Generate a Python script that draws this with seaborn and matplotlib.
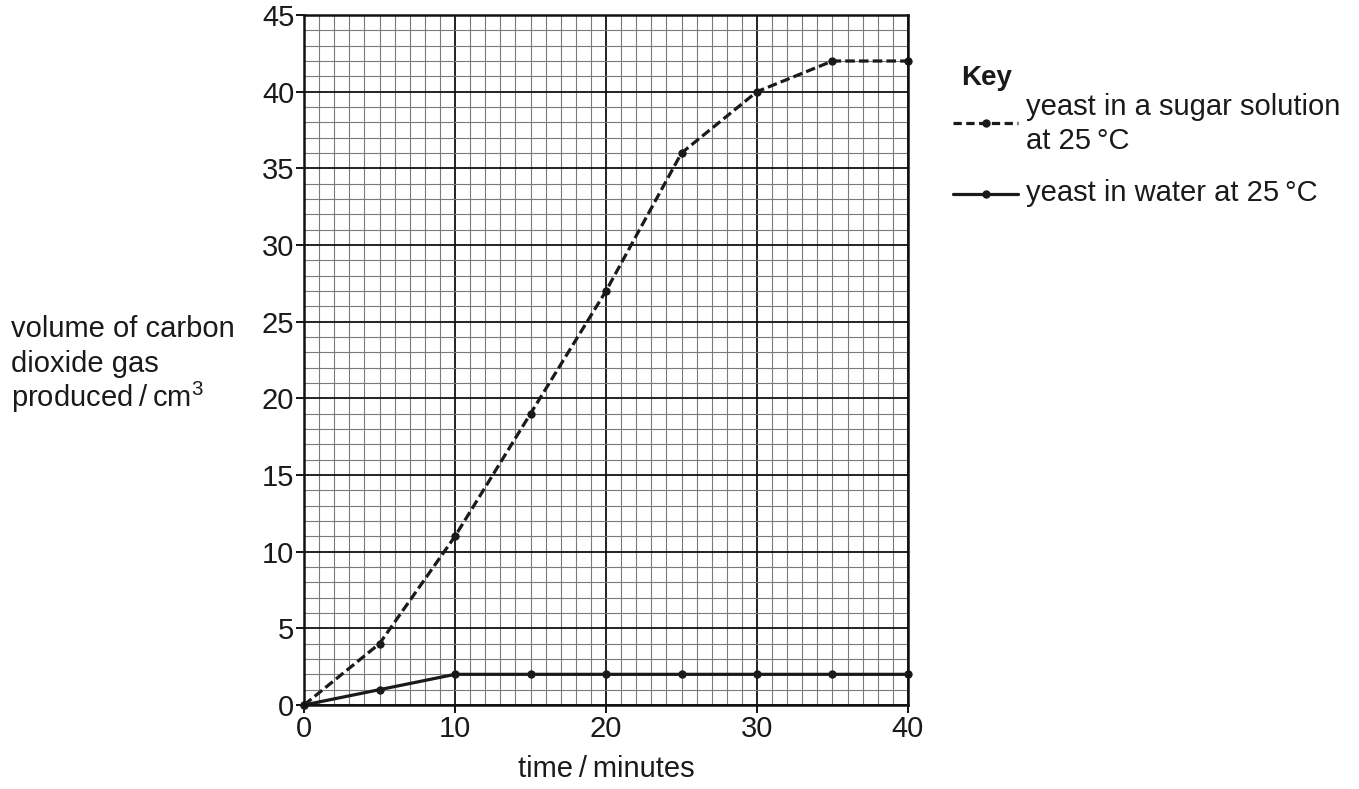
import matplotlib
matplotlib.use('Agg')
import matplotlib.pyplot as plt
import seaborn as sns
import pandas as pd
from matplotlib.lines import Line2D
from matplotlib.ticker import MultipleLocator

# readings taken every 5 minutes
time_min = [0, 5, 10, 15, 20, 25, 30, 35, 40]
sugar_vol = [0, 4, 11, 19, 27, 36, 40, 42, 42]
water_vol = [0, 1, 2, 2, 2, 2, 2, 2, 2]

sugar_label = ['yeast in a sugar solution', 'at 25\u2009°C']
water_label = 'yeast in water at 25\u2009°C'
y_label = ['volume of carbon', 'dioxide gas', 'produced\u2009/\u2009cm$^{3}$']

sns.set_style('white')
plt.rcParams['font.family'] = ['Liberation Sans', 'DejaVu Sans']
plt.rcParams['mathtext.fontset'] = 'custom'
plt.rcParams['mathtext.rm'] = 'Liberation Sans'
plt.rcParams['mathtext.it'] = 'Liberation Sans:italic'

W, H = 1359, 789
INK = '#1a1a1a'
LW = 2.3
DASH = (0, (3.0, 1.3))
FS = 21

fig = plt.figure(figsize=(W / 100, H / 100), dpi=100)
ax = fig.add_axes([304 / W, 84 / H, 604 / W, 690 / H])

# graph paper grid
ax.set_xlim(0, 40)
ax.set_ylim(0, 45)
ax.xaxis.set_major_locator(MultipleLocator(10))
ax.yaxis.set_major_locator(MultipleLocator(5))
ax.xaxis.set_minor_locator(MultipleLocator(1))
ax.yaxis.set_minor_locator(MultipleLocator(1))
ax.grid(which='minor', color='#7a7a7a', linewidth=0.8)
ax.grid(which='major', color='#111111', linewidth=1.3)
ax.set_axisbelow(True)

df_sugar = pd.DataFrame({'time': time_min, 'vol': sugar_vol})
df_water = pd.DataFrame({'time': time_min, 'vol': water_vol})
sns.lineplot(data=df_sugar, x='time', y='vol', ax=ax, color=INK,
             linewidth=LW, linestyle=DASH, marker='o', markersize=6,
             markeredgewidth=0, clip_on=False)
sns.lineplot(data=df_water, x='time', y='vol', ax=ax, color=INK,
             linewidth=LW, marker='o', markersize=6, markeredgewidth=0,
             clip_on=False)

for s in ax.spines.values():
    s.set_color('#111111')
    s.set_linewidth(1.8)

ax.tick_params(which='major', direction='out', length=6, width=1.4,
               labelsize=FS, color='#111111', labelcolor=INK, pad=1,
               bottom=True, left=True)
ax.tick_params(which='minor', length=0)
ax.set_xlabel('time\u2009/\u2009minutes', fontsize=FS, labelpad=9, color=INK)
ax.set_ylabel('')


def px(x, y):
    return x / W, 1 - y / H


# y axis title, three lines on the left
for line, base in zip(y_label, [337, 372, 407]):
    fig.text(*px(11, base), line, fontsize=FS, ha='left', va='baseline',
             color=INK)

# key
fig.text(*px(961, 85), 'Key', fontsize=20, fontweight='bold', color=INK,
         ha='left', va='baseline')

for y_line, style in [(123, (0, (2.6, 1.4))), (194, '-')]:
    x0, y0 = px(953, y_line)
    x1, _ = px(1018, y_line)
    fig.add_artist(Line2D([x0, (x0 + x1) / 2, x1], [y0, y0, y0],
                          transform=fig.transFigure, color=INK, linewidth=LW,
                          linestyle=style, marker='o', markersize=6,
                          markeredgewidth=0, markevery=[1]))

fig.text(*px(1026, 115), sugar_label[0], fontsize=FS, color=INK,
         ha='left', va='baseline')
fig.text(*px(1026, 149), sugar_label[1], fontsize=FS, color=INK,
         ha='left', va='baseline')
fig.text(*px(1026, 201), water_label, fontsize=FS, color=INK,
         ha='left', va='baseline')

fig.savefig('out.png', dpi=100)
